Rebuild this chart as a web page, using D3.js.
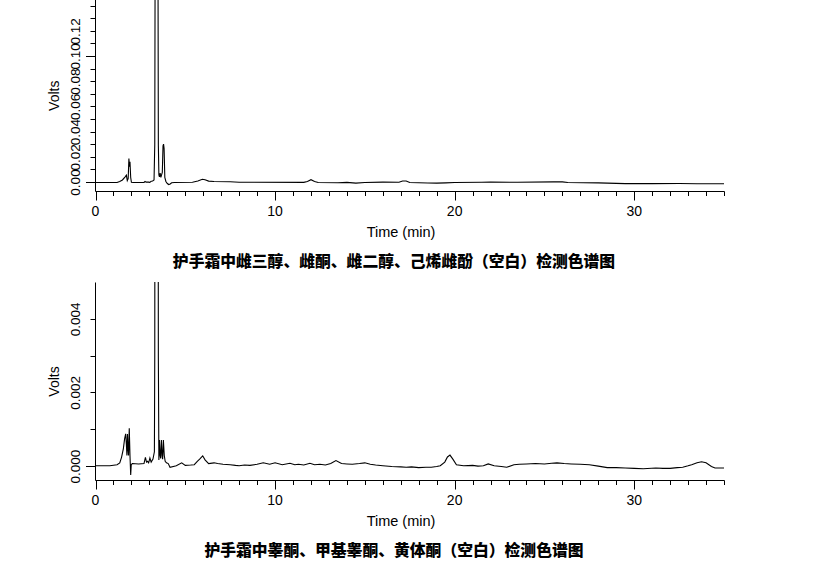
<!DOCTYPE html>
<html><head><meta charset="utf-8">
<script src="https://cdn.jsdelivr.net/npm/d3@7"></script>
<style>body{margin:0;background:#fff} svg{display:block}</style>
</head><body>
<svg id="c" width="820" height="564"></svg>
<script>
// ---- data ----
const topTime  = [0,1.2,1.35,1.5,1.65,1.72,1.77,1.82,1.86,1.89,1.92,1.96,2.0,2.1,2.7,2.76,2.82,2.95,3.02,3.1,3.18,3.26,3.30,3.33,3.40,3.47,3.50,3.53,3.56,3.60,3.64,3.68,3.72,3.76,3.79,3.82,3.86,3.92,4.0,4.08,4.16,4.24,4.4,5.4,5.7,5.95,6.1,6.3,6.6,7.5,8.0,11.6,11.8,12.0,12.2,12.4,13.5,14.0,14.5,15.0,16.0,16.9,17.1,17.3,17.5,18.5,19.0,19.5,20.0,21.5,22.0,23.5,25.5,26.0,26.3,28.0,29.5,31.0,32.5,33.5,35.0];
const topVolts = [0,0,0.0008,0.002,0.0045,0.0058,0.0015,0.003,0.019,0.0125,0.0165,0.004,0.0002,0,0,0.0008,0.0003,0.0003,0.0001,0.001,0.0012,0.002,0.03,0.25,0.3,0.25,0.03,0.006,0.0045,0.0075,0.004,0.006,0.008,0.029,0.0305,0.027,0.004,0.0008,-0.0008,-0.0016,-0.0012,-0.0002,0,0.0002,0.0012,0.0026,0.0022,0.0011,0.0008,0.0006,0.0002,0.0001,0.0008,0.0022,0.0008,0,-0.0002,0.0001,-0.0005,0,0.0003,0.0002,0.0012,0.0012,0,-0.0004,-0.0005,-0.0003,0,0.0002,0.0003,0.0002,0.0005,0.0005,0,-0.0003,-0.0009,-0.0009,-0.0008,-0.001,-0.001];

const bottomTime  = [0,0.8,1.2,1.35,1.45,1.55,1.62,1.68,1.72,1.75,1.78,1.81,1.84,1.88,1.92,1.96,1.99,2.05,2.4,2.7,2.78,2.84,2.9,2.96,3.03,3.1,3.2,3.28,3.30,3.33,3.47,3.50,3.53,3.56,3.6,3.63,3.67,3.71,3.74,3.78,3.83,3.88,3.95,4.05,4.15,4.5,4.8,5.0,5.3,5.5,5.67,5.8,5.97,6.1,6.3,6.6,6.8,7.1,7.5,7.8,8.0,8.3,8.6,9.0,9.34,9.7,10.0,10.4,10.83,11.1,11.3,11.6,11.94,12.2,12.5,12.8,13.1,13.39,13.7,14.0,14.3,14.7,15.0,15.3,15.6,16.0,16.5,17.0,17.3,17.6,18.0,18.4,18.7,19.0,19.2,19.45,19.6,19.74,19.9,20.1,20.5,21.0,21.3,21.6,21.87,22.2,22.6,22.9,23.3,23.6,24.0,24.5,25.0,25.4,25.7,26.1,26.5,27.0,27.5,28.0,28.5,29.0,29.5,30.0,30.5,31.2,31.6,32.0,32.4,32.7,33.0,33.2,33.5,33.75,34.0,34.3,34.5,35.0];
const bottomVolts = [0.00002,0.00002,0.00005,0.0001,0.00025,0.00048,0.00075,0.00089,0.0006,0.0003,0.00088,0.0005,0.0003,0.00104,0.0003,-0.00023,0.00005,0.00008,0.00007,0.00008,0.00025,0.00012,0.00014,0.0001,0.00023,0.00012,0.0002,0.0004,0.003,0.02,0.02,0.003,0.00018,0.00072,0.0003,0.00022,0.00072,0.0003,0.0002,0.00072,0.0003,0.00014,0.0001,0.00008,-0.00002,0.00002,0.0001,0.00003,0.00004,0.00005,0.00014,0.0002,0.00029,0.00018,0.00008,0.0001,0.00008,0.00006,0.00005,0.00003,0.00002,0.00004,0.00003,0.00006,0.0001,0.00006,0.0001,0.00005,0.00009,0.00005,0.00006,0.00004,0.00009,0.00005,0.00006,0.00004,0.00008,0.00016,0.00008,0.00007,0.00006,0.00008,0.0001,0.00006,0.00004,0.00002,0,-0.00001,-0.00002,-0.00001,-0.00003,-0.00002,-0.00002,0,0.00002,0.00012,0.00026,0.00031,0.0002,0.00005,0.00002,0.00003,0.00001,0.00002,0.00007,0.00002,0,-0.00002,0.00005,0.00006,0.00007,0.00008,0.00007,0.00009,0.0001,0.00008,0.00007,0.00006,0.00005,0.00001,-0.00003,-0.00003,-0.00004,-0.00005,-0.00006,-0.00004,-0.00005,-0.00005,-0.00003,-0.00002,0.00002,0.00005,0.0001,0.00013,0.0001,0,-0.00004,-0.00004];

const xMajorTicks = [0,10,20,30];
const xMinorTicks = d3.range(0,36,1);
const topYTicks = [0,0.02,0.04,0.06,0.08,0.10,0.12];
const topYTickText = ["0.00","0.02","0.04","0.06","0.08","0.10","0.12"];
const topYMinor = d3.range(0,15).map(i=>i*0.01);
const topYLong = [0,0.1];
const bottomYTicks = [0,0.002,0.004];
const bottomYTickText = ["0.000","0.002","0.004"];
const bottomYMinor = [0,0.001,0.002,0.003,0.004];
const bottomYLong = [0];
const topTitle = "护手霜中雌三醇、雌酮、雌二醇、己烯雌酚（空白）检测色谱图";
const bottomTitle = "护手霜中睾酮、甲基睾酮、黄体酮（空白）检测色谱图";
const xTitle = "Time (min)";
const yTitle = "Volts";

// ---- drawing ----
const svg = d3.select("#c");
const LAT = "'Liberation Sans', Arial, sans-serif";
const CJK = "'Noto Sans CJK SC', sans-serif";
const x = d3.scaleLinear().domain([0,35]).range([95.5,724]);

function panel(id, times, volts, yDom, yRange, yTicks, yText, yMinor, yLong, title){
  const y = d3.scaleLinear().domain(yDom).range(yRange);
  const g = svg.append("g");
  const y0 = yRange[0], y1 = yRange[1];
  g.append("clipPath").attr("id","clip"+id).append("rect")
    .attr("x",95).attr("y",y1-0.5).attr("width",640).attr("height",y0-y1+1);
  const data = times.map((t,i)=>[t,volts[i]]);
  g.append("path").datum(data).attr("clip-path","url(#clip"+id+")")
    .attr("fill","none").attr("stroke","#000").attr("stroke-width",1.1)
    .attr("d", d3.line().x(d=>x(d[0])).y(d=>y(d[1])));
  // x axis
  g.append("line").attr("x1",95.5).attr("x2",724.5).attr("y1",y0).attr("y2",y0).attr("stroke","#000");
  g.selectAll(null).data(xMinorTicks).join("line")
    .attr("x1",d=>Math.round(x(d))+0.5).attr("x2",d=>Math.round(x(d))+0.5)
    .attr("y1",y0).attr("y2",d=>y0+(d%10===0?9:4.5)).attr("stroke","#000");
  g.selectAll(null).data(xMajorTicks).join("text")
    .attr("x",d=>x(d)).attr("y",y0+24).attr("text-anchor","middle")
    .attr("font-family",LAT).attr("font-size",14).text(d=>d);
  g.append("text").attr("x",401).attr("y",y0+45).attr("text-anchor","middle")
    .attr("font-family",LAT).attr("font-size",14.5).text(xTitle);
  g.append("text").attr("x",394).attr("y",y0+75).attr("text-anchor","middle")
    .attr("font-family",CJK).attr("font-weight",900).attr("font-size",15.8).text(title);
  // y axis
  g.append("line").attr("x1",95.5).attr("x2",95.5).attr("y1",y0).attr("y2",y1).attr("stroke","#000");
  g.selectAll(null).data(yMinor).join("line")
    .attr("x1",d=>yLong.some(v=>Math.abs(v-d)<1e-9)?86:90.5).attr("x2",95.5)
    .attr("y1",d=>Math.round(y(d)-0.5)+0.5).attr("y2",d=>Math.round(y(d)-0.5)+0.5).attr("stroke","#000");
  g.selectAll(null).data(yTicks).join("text")
    .attr("transform",(d)=>`translate(80,${y(d)}) rotate(-90)`)
    .attr("text-anchor","middle").attr("font-family",LAT).attr("font-size",13.5)
    .text((d,i)=>yText[i]);
  g.append("text").attr("transform",`translate(59,${(y0+y1)/2}) rotate(-90)`)
    .attr("text-anchor","middle").attr("font-family",LAT).attr("font-size",14).text(yTitle);
}

panel("a", topTime, topVolts, [-0.00714,0.1448],[191.5,0], topYTicks, topYTickText, topYMinor, topYLong, topTitle);
panel("b", bottomTime, bottomVolts, [-0.00038,0.005],[480.5,282.5], bottomYTicks, bottomYTickText, bottomYMinor, bottomYLong, bottomTitle);
</script>
</body></html>
